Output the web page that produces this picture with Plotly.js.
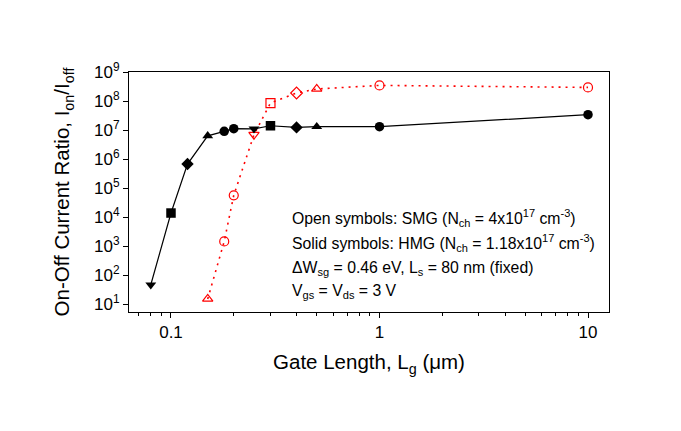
<!DOCTYPE html>
<html>
<head>
<meta charset="utf-8">
<script src="https://cdn.plot.ly/plotly-3.0.1.min.js"></script>
<style>html,body{margin:0;padding:0;background:#fff;}#chart{width:681px;height:431px;}</style>
</head>
<body>
<div id="chart"></div>
<script>
// Gate length (um)
const hmgLength = [0.08, 0.1, 0.12, 0.15, 0.18, 0.2, 0.25, 0.3, 0.4, 0.5, 1, 10];
const hmgRatio  = [46, 1.37e4, 6.7e5, 6.3e6, 9.0e6, 1.11e7, 1.1e7, 1.4e7, 1.23e7, 1.3e7, 1.3e7, 3.37e7];
const hmgSymbols = ['triangle-down','square','diamond','triangle-up','circle','circle','triangle-down','square','diamond','triangle-up','circle','circle'];

const smgLength = [0.15, 0.18, 0.2, 0.25, 0.3, 0.4, 0.5, 1, 10];
const smgRatio  = [14.9, 1440, 5.6e4, 6.9e6, 8.5e7, 1.89e8, 2.6e8, 3.45e8, 2.94e8];
const smgSymbols = ['triangle-up-open','circle-open','circle-open','triangle-down-open','square-open','diamond-open','triangle-up-open','circle-open','circle-open'];

const xTickVals = [0.1, 1, 10];
const xTickText = ['0.1', '1', '10'];
const xMinorVals = [0.07,0.08,0.09,0.2,0.3,0.4,0.5,0.6,0.7,0.8,0.9,2,3,4,5,6,7,8,9];
const yTickVals = [1e1,1e2,1e3,1e4,1e5,1e6,1e7,1e8,1e9];
const yTickText = ['10<sup>1</sup>','10<sup>2</sup>','10<sup>3</sup>','10<sup>4</sup>','10<sup>5</sup>','10<sup>6</sup>','10<sup>7</sup>','10<sup>8</sup>','10<sup>9</sup>'];

const noteLines = [
  'Open symbols: SMG (N<sub>ch</sub> = 4x10<sup>17</sup> cm<sup>-3</sup>)',
  'Solid symbols: HMG (N<sub>ch</sub> = 1.18x10<sup>17</sup> cm<sup>-3</sup>)',
  '\u0394W<sub>sg</sub> = 0.46 eV, L<sub>s</sub> = 80 nm (fixed)',
  'V<sub>gs</sub> = V<sub>ds</sub> = 3 V'
];

const FONT = '"Liberation Sans", Arial, sans-serif';

const traces = [
  {
    x: smgLength, y: smgRatio, type: 'scatter', mode: 'lines+markers',
    line: {color: '#ff0000', width: 1.6, dash: '2px,5px'},
    marker: {symbol: smgSymbols, size: 9, color: '#ff0000', line: {color: '#ff0000', width: 1.2}},
    showlegend: false
  },
  {
    x: hmgLength, y: hmgRatio, type: 'scatter', mode: 'lines+markers',
    line: {color: '#000000', width: 1.2},
    marker: {symbol: hmgSymbols, size: 9.5, color: '#000000', line: {color: '#000000', width: 0}},
    showlegend: false
  }
];

const noteY = [0.392, 0.289, 0.183, 0.087];
const annotations = noteLines.map((t, i) => ({
  text: t, xref: 'paper', yref: 'paper', x: 0.336, y: noteY[i],
  xanchor: 'left', yanchor: 'middle', showarrow: false,
  font: {family: FONT, size: 15.8, color: '#000'}
}));

const layout = {
  width: 681, height: 431,
  margin: {l: 129, r: 72, t: 72, b: 119},
  paper_bgcolor: '#fff', plot_bgcolor: '#fff',
  font: {family: FONT, color: '#000'},
  showlegend: false,
  xaxis: {
    type: 'log', range: [-1.2014, 1.1007],
    tickmode: 'array', tickvals: xTickVals, ticktext: xTickText,
    ticks: 'outside', ticklen: 5, tickwidth: 1, tickcolor: '#000',
    minor: {tickmode: 'array', tickvals: xMinorVals, ticks: 'outside', ticklen: 3, tickwidth: 1, tickcolor: '#000', showgrid: false},
    showline: true, linecolor: '#000', linewidth: 1, mirror: true,
    showgrid: false, zeroline: false,
    tickfont: {family: FONT, size: 17, color: '#000'},
    title: {text: 'Gate Length, L<sub>g</sub> (\u03bcm)', font: {family: FONT, size: 20.5, color: '#000'}, standoff: 13}
  },
  yaxis: {
    type: 'log', range: [0.724, 9],
    tickmode: 'array', tickvals: yTickVals, ticktext: yTickText,
    ticks: 'outside', ticklen: 5, tickwidth: 1, tickcolor: '#000',
    showline: true, linecolor: '#000', linewidth: 1, mirror: true,
    showgrid: false, zeroline: false,
    tickfont: {family: FONT, size: 17, color: '#000'},
    title: {text: 'On-Off Current Ratio, I<sub>on</sub>/I<sub>off</sub>', font: {family: FONT, size: 20.5, color: '#000'}, standoff: 18}
  },
  annotations: annotations
};

Plotly.newPlot('chart', traces, layout, {displayModeBar: false, staticPlot: true});
</script>
</body>
</html>
